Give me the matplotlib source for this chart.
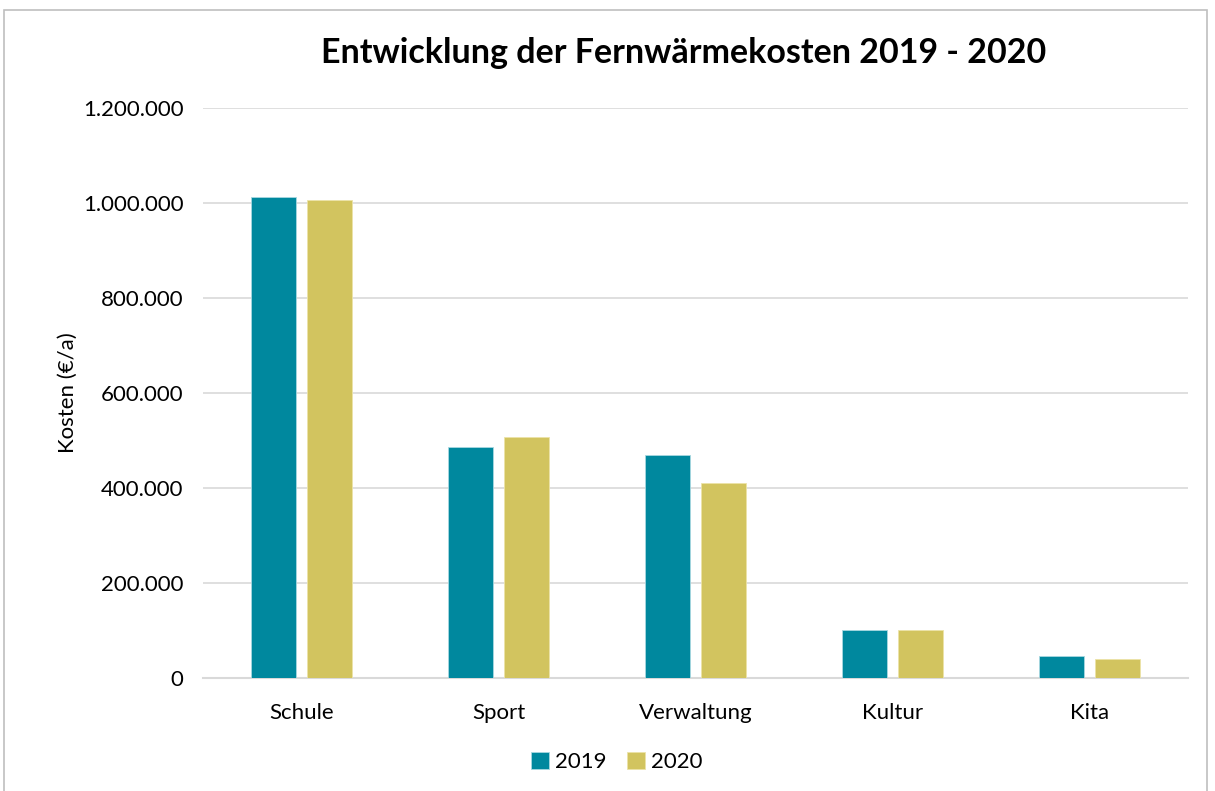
import numpy as np
import matplotlib
matplotlib.use("Agg")
import matplotlib.pyplot as plt
from matplotlib.patches import Rectangle
from matplotlib.ticker import FuncFormatter

# data
categories = ["Schule", "Sport", "Verwaltung", "Kultur", "Kita"]
costs_2019 = [1012600, 486300, 468800, 101700, 45700]
costs_2020 = [1006300, 506700, 409900, 101500, 40000]
y_ticks = [0, 200000, 400000, 600000, 800000, 1000000, 1200000]

teal = "#00889e"
gold = "#d2c45f"
grid_col = "#d9d9d9"

plt.rcParams['font.family'] = ['Lato', 'DejaVu Sans']

fig = plt.figure(figsize=(12.15, 7.91), dpi=100)
ax = fig.add_axes([203 / 1215, 1 - 678 / 791, 985 / 1215, 570 / 791])

# outer chart frame
fig.patches.append(Rectangle((4 / 1215, -0.05), 1203 / 1215, 1 - 10 / 791 + 0.05,
                             transform=fig.transFigure, fill=False,
                             edgecolor="#bfbfbf", linewidth=1.2))

x = np.arange(len(categories))
w = 0.224
off = 0.142
ax.bar(x - off, costs_2019, width=w, color=teal, edgecolor="#a8d8e0", linewidth=0.6, label="2019", zorder=3)
ax.bar(x + off, costs_2020, width=w, color=gold, edgecolor="#ece3a8", linewidth=0.6, label="2020", zorder=3)

ax.set_xlim(-0.5, len(categories) - 0.5)
ax.set_ylim(0, 1200000)
ax.set_yticks(y_ticks)
ax.yaxis.set_major_formatter(FuncFormatter(lambda v, p: f"{int(v):,}".replace(",", ".")))
ax.set_xticks(x)
ax.set_xticklabels(categories)
ax.tick_params(axis="both", length=0, labelsize=16, colors="#000000")
ax.tick_params(axis="y", pad=14)
ax.tick_params(axis="x", pad=18)

ax.grid(axis="y", color=grid_col, linewidth=1.2, zorder=0)
for s in ["top", "right", "left"]:
    ax.spines[s].set_visible(False)
ax.spines["bottom"].set_color(grid_col)
ax.spines["bottom"].set_linewidth(1.5)

ax.set_ylabel("Kosten (€/a)", fontsize=16, labelpad=4)
fig.text(684 / 1215, 1 - 53 / 791, "Entwicklung der Fernwärmekosten 2019 - 2020",
         ha="center", va="center", fontsize=24.5, fontweight="bold")

ax.legend(loc="center", bbox_to_anchor=(617 / 1215, 1 - 762 / 791), bbox_transform=fig.transFigure,
          ncol=2, frameon=False, fontsize=16, handlelength=0.8, handleheight=0.8,
          handletextpad=0.3, columnspacing=0.9)

fig.savefig("out.png", dpi=100)
